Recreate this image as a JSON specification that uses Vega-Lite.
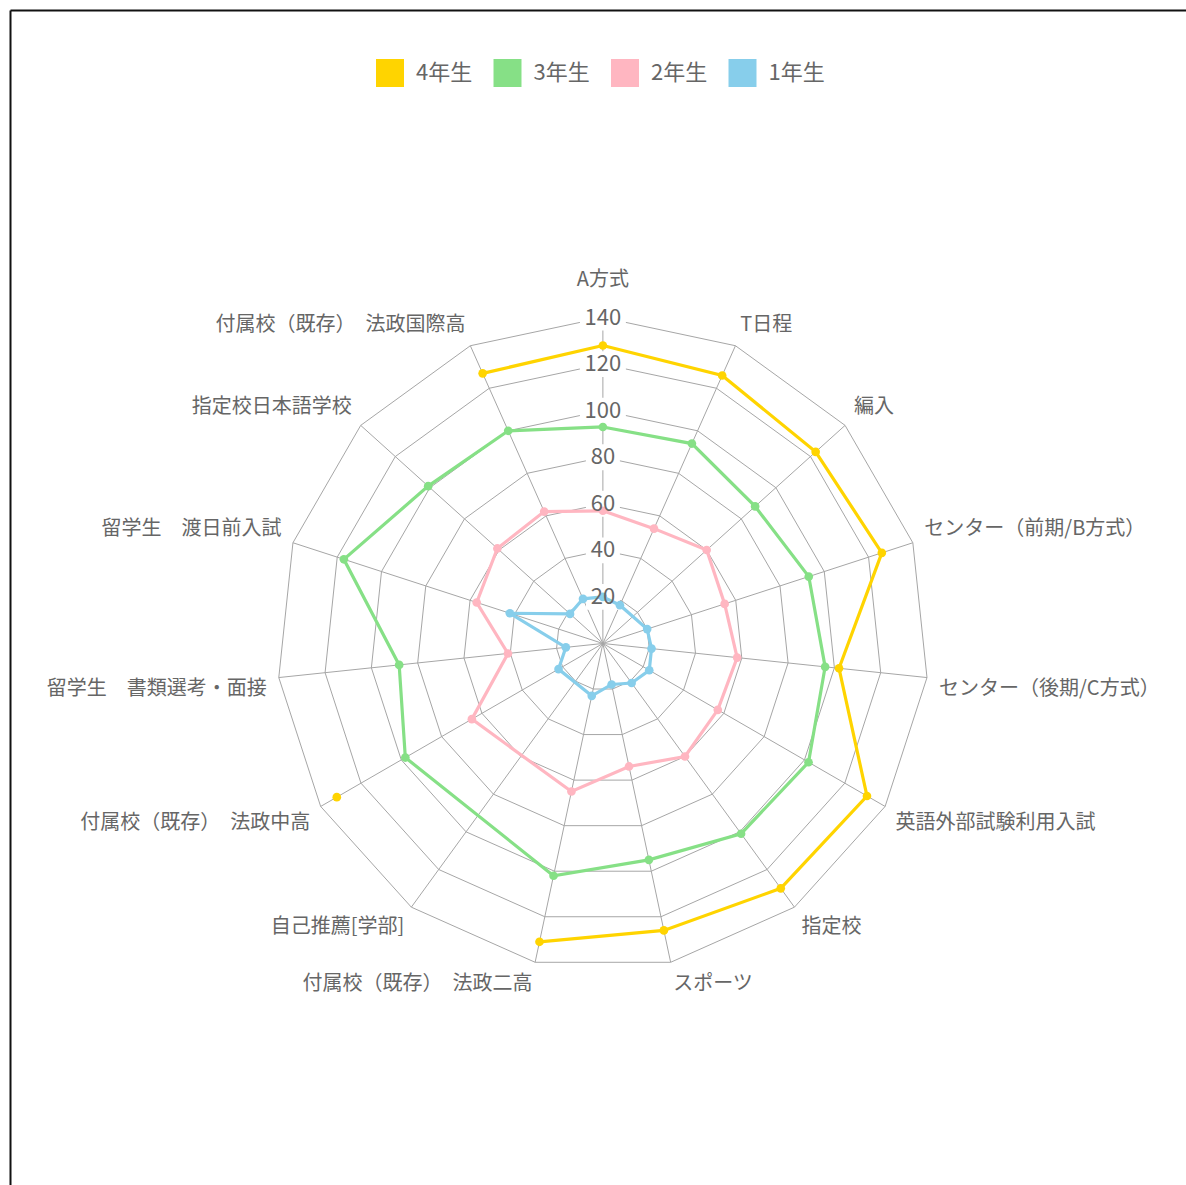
{
  "$schema": "https://vega.github.io/schema/vega-lite/v6.json",
  "width": 1186,
  "height": 1185,
  "autosize": {"type": "fit", "contains": "padding"},
  "padding": {"left": 10, "top": 10, "right": 0, "bottom": 0},
  "background": "white",
  "config": {"view": {"stroke": null}, "font": "Noto Sans CJK JP"},
  "datasets": {
    "scores": [
      {"g": "4年生", "k": 0, "v": 128}, {"g": "4年生", "k": 1, "v": 126}, {"g": "4年生", "k": 2, "v": 123}, {"g": "4年生", "k": 3, "v": 126},
      {"g": "4年生", "k": 4, "v": 102}, {"g": "4年生", "k": 5, "v": 131}, {"g": "4年生", "k": 6, "v": 130}, {"g": "4年生", "k": 7, "v": 126},
      {"g": "4年生", "k": 8, "v": 131}, {"g": "4年生", "k": 9, "v": null}, {"g": "4年生", "k": 10, "v": 132}, {"g": "4年生", "k": 11, "v": null},
      {"g": "4年生", "k": 12, "v": null}, {"g": "4年生", "k": 13, "v": null}, {"g": "4年生", "k": 14, "v": 127}, {"g": "4年生", "k": 15, "v": 128},
      {"g": "3年生", "k": 0, "v": 93}, {"g": "3年生", "k": 1, "v": 94}, {"g": "3年生", "k": 2, "v": 88}, {"g": "3年生", "k": 3, "v": 93},
      {"g": "3年生", "k": 4, "v": 96}, {"g": "3年生", "k": 5, "v": 102}, {"g": "3年生", "k": 6, "v": 101}, {"g": "3年生", "k": 7, "v": 95},
      {"g": "3年生", "k": 8, "v": 102}, {"g": "3年生", "k": 10, "v": 98}, {"g": "3年生", "k": 11, "v": 88},
      {"g": "3年生", "k": 12, "v": 117}, {"g": "3年生", "k": 13, "v": 101}, {"g": "3年生", "k": 14, "v": 100}, {"g": "3年生", "k": 15, "v": 93},
      {"g": "2年生", "k": 0, "v": 57}, {"g": "2年生", "k": 1, "v": 54}, {"g": "2年生", "k": 2, "v": 60}, {"g": "2年生", "k": 3, "v": 55},
      {"g": "2年生", "k": 4, "v": 58}, {"g": "2年生", "k": 5, "v": 57}, {"g": "2年生", "k": 6, "v": 60}, {"g": "2年生", "k": 7, "v": 54},
      {"g": "2年生", "k": 8, "v": 65}, {"g": "2年生", "k": 10, "v": 65}, {"g": "2年生", "k": 11, "v": 41},
      {"g": "2年生", "k": 12, "v": 57}, {"g": "2年生", "k": 13, "v": 61}, {"g": "2年生", "k": 14, "v": 62}, {"g": "2年生", "k": 15, "v": 57},
      {"g": "1年生", "k": 0, "v": 20}, {"g": "1年生", "k": 1, "v": 18}, {"g": "1年生", "k": 3, "v": 20},
      {"g": "1年生", "k": 4, "v": 21}, {"g": "1年生", "k": 5, "v": 23}, {"g": "1年生", "k": 6, "v": 21}, {"g": "1年生", "k": 7, "v": 18},
      {"g": "1年生", "k": 8, "v": 23}, {"g": "1年生", "k": 10, "v": 22}, {"g": "1年生", "k": 11, "v": 16},
      {"g": "1年生", "k": 12, "v": 42}, {"g": "1年生", "k": 13, "v": 19}, {"g": "1年生", "k": 14, "v": 21}, {"g": "1年生", "k": 15, "v": 20}
    ],
    "axes": [
      {"k": 0, "label": "A方式"},
      {"k": 1, "label": "T日程"},
      {"k": 2, "label": "編入"},
      {"k": 3, "label": "センター（前期/B方式）"},
      {"k": 4, "label": "センター（後期/C方式）"},
      {"k": 5, "label": "英語外部試験利用入試"},
      {"k": 6, "label": "指定校"},
      {"k": 7, "label": "スポーツ"},
      {"k": 8, "label": "付属校（既存）　法政二高"},
      {"k": 9, "label": "自己推薦[学部]"},
      {"k": 10, "label": "付属校（既存）　法政中高"},
      {"k": 11, "label": "留学生　書類選考・面接"},
      {"k": 12, "label": "留学生　渡日前入試"},
      {"k": 13, "label": "指定校日本語学校"},
      {"k": 14, "label": "付属校（既存）　法政国際高"}
    ],
    "rings": [
      {"r": 20, "ks": [0,1,2,3,4,5,6,7,8,9,10,11,12,13,14,15]},
      {"r": 40, "ks": [0,1,2,3,4,5,6,7,8,9,10,11,12,13,14,15]},
      {"r": 60, "ks": [0,1,2,3,4,5,6,7,8,9,10,11,12,13,14,15]},
      {"r": 80, "ks": [0,1,2,3,4,5,6,7,8,9,10,11,12,13,14,15]},
      {"r": 100, "ks": [0,1,2,3,4,5,6,7,8,9,10,11,12,13,14,15]},
      {"r": 120, "ks": [0,1,2,3,4,5,6,7,8,9,10,11,12,13,14,15]},
      {"r": 140, "ks": [0,1,2,3,4,5,6,7,8,9,10,11,12,13,14,15]}
    ],
    "ticks": [{"v": 20}, {"v": 40}, {"v": 60}, {"v": 80}, {"v": 100}, {"v": 120}, {"v": 140}]
  },
  "encoding": {
    "x": {"field": "px", "type": "quantitative", "scale": {"domain": [-254.7, 250.5], "nice": false, "zero": false},
      "axis": {"orient": "top", "domain": true, "domainColor": "#111111", "domainWidth": 2, "labels": false, "ticks": false, "grid": false, "title": null}},
    "y": {"field": "py", "type": "quantitative", "scale": {"domain": [-232.6, 272.1], "nice": false, "zero": false},
      "axis": {"orient": "left", "domain": true, "domainColor": "#111111", "domainWidth": 2, "labels": false, "ticks": false, "grid": false, "title": null}}
  },
  "layer": [
    {
      "data": {"name": "rings"},
      "transform": [
        {"flatten": ["ks"], "as": ["k"]},
        {"calculate": "datum.r * sin(datum.k * PI / 7.5)", "as": "px"},
        {"calculate": "datum.r * cos(datum.k * PI / 7.5)", "as": "py"}
      ],
      "mark": {"type": "line", "color": "#a6a6a6", "strokeWidth": 1},
      "encoding": {"detail": {"field": "r", "type": "nominal"}, "order": {"field": "k", "type": "quantitative"}}
    },
    {
      "data": {"name": "axes"},
      "transform": [
        {"calculate": "140 * sin(datum.k * PI / 7.5)", "as": "px"},
        {"calculate": "140 * cos(datum.k * PI / 7.5)", "as": "py"}
      ],
      "mark": {"type": "rule", "color": "#a6a6a6", "strokeWidth": 1},
      "encoding": {"x2": {"datum": 0}, "y2": {"datum": 0}}
    },
    {
      "data": {"name": "ticks"},
      "transform": [
        {"filter": "datum.v >= 100"},
        {"calculate": "0", "as": "px"},
        {"calculate": "datum.v", "as": "py"}
      ],
      "mark": {"type": "point", "filled": true, "color": "white", "opacity": 1, "size": 2116, "shape": "M-1,-0.56H1V0.56H-1Z"}
    },
    {
      "data": {"name": "ticks"},
      "transform": [
        {"filter": "datum.v < 100"},
        {"calculate": "0", "as": "px"},
        {"calculate": "datum.v", "as": "py"}
      ],
      "mark": {"type": "point", "filled": true, "color": "white", "opacity": 1, "size": 1156, "shape": "M-1,-0.76H1V0.76H-1Z"}
    },
    {
      "data": {"name": "scores"},
      "transform": [
        {"calculate": "datum.v == null ? null : datum.v * sin(datum.k * PI / 7.5)", "as": "px"},
        {"calculate": "datum.v == null ? null : datum.v * cos(datum.k * PI / 7.5)", "as": "py"}
      ],
      "mark": {"type": "line", "strokeWidth": 3.2, "invalid": "break-paths-filter-domains"},
      "encoding": {
        "color": {"field": "g", "type": "nominal", "scale": {"domain": ["4年生", "3年生", "2年生", "1年生"], "range": ["#FFD400", "#86E086", "#FFB6C1", "#87CEEB"]},
          "legend": {"orient": "none", "legendX": 366, "legendY": 49, "direction": "horizontal", "columns": 4, "title": null,
            "symbolType": "square", "symbolSize": 784, "symbolStrokeWidth": 0, "symbolOpacity": 1,
            "labelFontSize": 22, "labelColor": "#666666", "labelFont": "Noto Sans CJK JP", "labelOffset": 12, "columnPadding": 20.5,
            "encode": {"symbols": {"update": {"fill": {"scale": "color", "field": "value"}, "stroke": {"value": "transparent"}, "shape": {"value": "square"}, "size": {"value": 784}, "opacity": {"value": 1}}}}}},
        "detail": {"field": "g", "type": "nominal"},
        "order": {"field": "k", "type": "quantitative"}
      }
    },
    {
      "data": {"name": "scores"},
      "transform": [
        {"filter": "datum.v != null && datum.k < 15"},
        {"calculate": "datum.v * sin(datum.k * PI / 7.5)", "as": "px"},
        {"calculate": "datum.v * cos(datum.k * PI / 7.5)", "as": "py"}
      ],
      "mark": {"type": "point", "filled": true, "size": 75, "opacity": 1},
      "encoding": {
        "color": {"field": "g", "type": "nominal", "scale": {"domain": ["4年生", "3年生", "2年生", "1年生"], "range": ["#FFD400", "#86E086", "#FFB6C1", "#87CEEB"]},
          "legend": {"orient": "none", "legendX": 366, "legendY": 49, "direction": "horizontal", "columns": 4, "title": null,
            "symbolType": "square", "symbolSize": 784, "symbolStrokeWidth": 0, "symbolOpacity": 1,
            "labelFontSize": 22, "labelColor": "#666666", "labelFont": "Noto Sans CJK JP", "labelOffset": 12, "columnPadding": 20.5,
            "encode": {"symbols": {"update": {"fill": {"scale": "color", "field": "value"}, "stroke": {"value": "transparent"}, "shape": {"value": "square"}, "size": {"value": 784}, "opacity": {"value": 1}}}}}}
      }
    },
    {
      "data": {"name": "ticks"},
      "transform": [
        {"calculate": "0", "as": "px"},
        {"calculate": "datum.v", "as": "py"}
      ],
      "mark": {"type": "text", "fontSize": 22, "color": "#666666", "align": "center", "baseline": "middle", "font": "Noto Sans CJK JP"},
      "encoding": {"text": {"field": "v", "type": "quantitative"}}
    },
    {
      "data": {"name": "axes"},
      "transform": [
        {"filter": "datum.k == 0"},
        {"calculate": "152 * sin(datum.k * PI / 7.5)", "as": "px"},
        {"calculate": "152 * cos(datum.k * PI / 7.5)", "as": "py"}
      ],
      "mark": {"type": "text", "fontSize": 20, "color": "#666666", "align": "center", "baseline": "bottom", "font": "Noto Sans CJK JP"},
      "encoding": {"text": {"field": "label", "type": "nominal"}}
    },
    {
      "data": {"name": "axes"},
      "transform": [
        {"filter": "datum.k >= 1 && datum.k <= 3"},
        {"calculate": "145.2 * sin(datum.k * PI / 7.5)", "as": "px"},
        {"calculate": "145.2 * cos(datum.k * PI / 7.5)", "as": "py"}
      ],
      "mark": {"type": "text", "fontSize": 20, "color": "#666666", "align": "left", "baseline": "bottom", "font": "Noto Sans CJK JP"},
      "encoding": {"text": {"field": "label", "type": "nominal"}}
    },
    {
      "data": {"name": "axes"},
      "transform": [
        {"filter": "datum.k >= 4 && datum.k <= 7"},
        {"calculate": "145.2 * sin(datum.k * PI / 7.5)", "as": "px"},
        {"calculate": "145.2 * cos(datum.k * PI / 7.5)", "as": "py"}
      ],
      "mark": {"type": "text", "fontSize": 20, "color": "#666666", "align": "left", "baseline": "top", "font": "Noto Sans CJK JP"},
      "encoding": {"text": {"field": "label", "type": "nominal"}}
    },
    {
      "data": {"name": "axes"},
      "transform": [
        {"filter": "datum.k >= 8 && datum.k <= 11"},
        {"calculate": "145.2 * sin(datum.k * PI / 7.5)", "as": "px"},
        {"calculate": "145.2 * cos(datum.k * PI / 7.5)", "as": "py"}
      ],
      "mark": {"type": "text", "fontSize": 20, "color": "#666666", "align": "right", "baseline": "top", "font": "Noto Sans CJK JP"},
      "encoding": {"text": {"field": "label", "type": "nominal"}}
    },
    {
      "data": {"name": "axes"},
      "transform": [
        {"filter": "datum.k >= 12"},
        {"calculate": "145.2 * sin(datum.k * PI / 7.5)", "as": "px"},
        {"calculate": "145.2 * cos(datum.k * PI / 7.5)", "as": "py"}
      ],
      "mark": {"type": "text", "fontSize": 20, "color": "#666666", "align": "right", "baseline": "bottom", "font": "Noto Sans CJK JP"},
      "encoding": {"text": {"field": "label", "type": "nominal"}}
    }
  ]
}
